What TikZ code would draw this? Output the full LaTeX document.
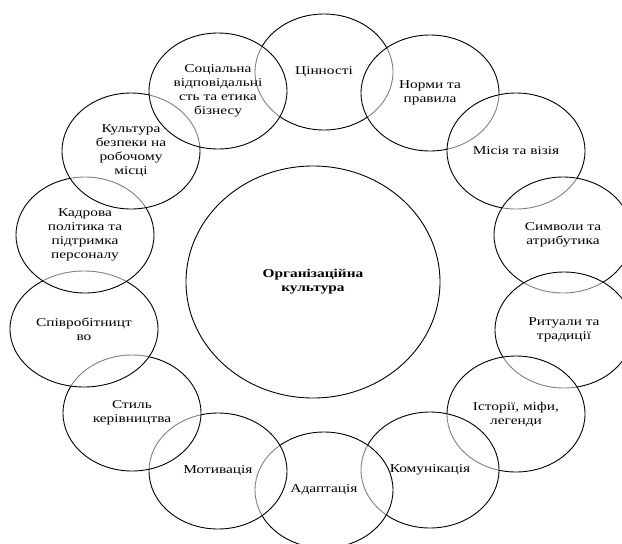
\documentclass[tikz,border=0pt]{standalone}
\usepackage{fontspec}
\setmainfont{Liberation Serif}[FakeStretch=1.28]
\usetikzlibrary{shapes.geometric}
\tikzset{
  part/.style={ellipse,draw=black,line width=.9pt,fill=white,fill opacity=.5,text opacity=1,
               minimum width=138pt,minimum height=116pt,inner sep=0pt,align=center,
               font=\fontsize{12}{14}\selectfont},
  core/.style={ellipse,draw=black,line width=.9pt,minimum width=254pt,minimum height=232pt,
               inner sep=0pt,align=center,font=\fontsize{12}{14}\selectfont\bfseries},
}
\begin{document}
\begin{tikzpicture}[x=1pt,y=-1pt]
  \useasboundingbox (0,0) rectangle (622,544);
  % central ellipse
  \node[core] (core) at (313,282) {Організаційна\\культура};
  % ring, drawn clockwise from the top
  \node[part] (val)  at (324,72)  {Цінності};
  \node[part] (norm) at (430,93)  {Норми та\\правила};
  \node[part] (miss) at (516,151) {Місія та візія};
  \node[part] (symb) at (563,235) {Символи та\\атрибутика};
  \node[part] (ritu) at (564,330) {Ритуали та\\традиції};
  \node[part] (hist) at (516,414) {Історії, міфи,\\легенди};
  \node[part] (comm) at (430,470) {Комунікація};
  \node[part] (adap) at (324,490) {Адаптація};
  \node[part] (motv) at (218,471) {Мотивація};
  \node[part] (lead) at (132,413) {Стиль\\керівництва};
  \node[part,minimum width=148pt] (coop) at (84,329) {Співробітницт\\во};
  \node[part] (hr)   at (85,235)  {Кадрова\\політика та\\підтримка\\персоналу};
  \node[part] (safe) at (131,151) {Культура\\безпеки на\\робочому\\місці};
  \node[part] (csr)  at (218,91)  {Соціальна\\відповідальні\\сть та етика\\бізнесу};
\end{tikzpicture}
\end{document}
